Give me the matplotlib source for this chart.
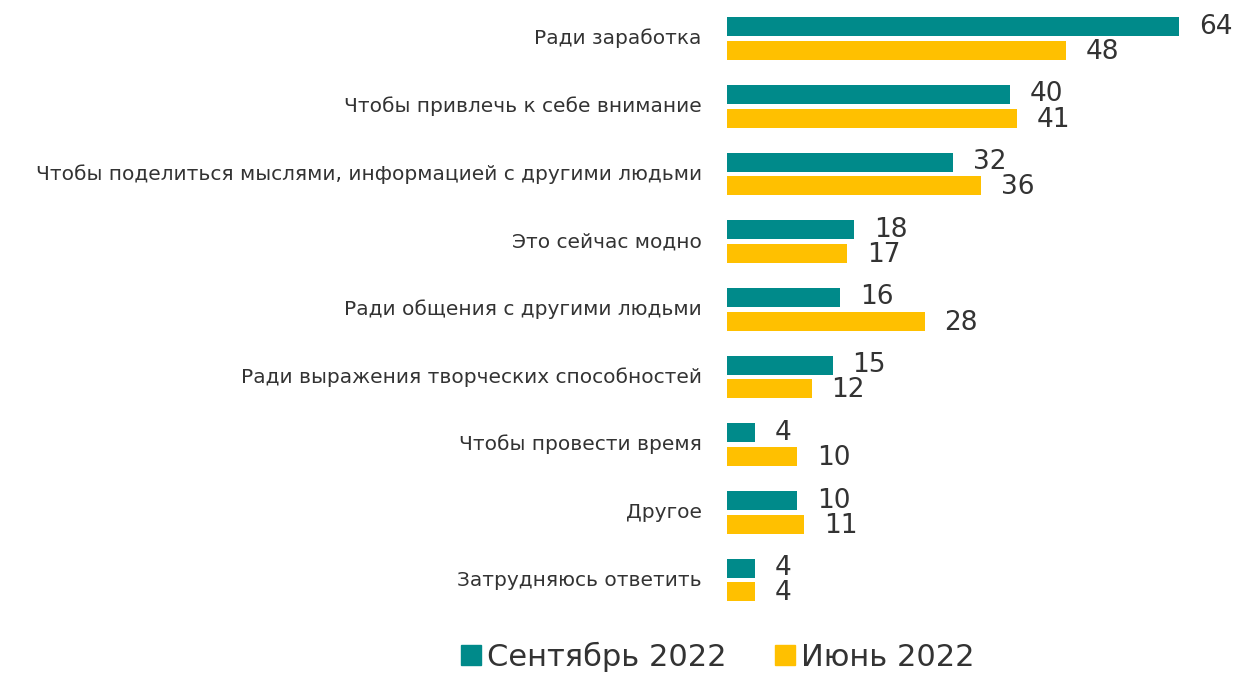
import matplotlib
matplotlib.use('Agg')
import matplotlib.pyplot as plt
import numpy as np
from matplotlib.patches import Patch

# Данные
categories = [
    'Ради заработка',
    'Чтобы привлечь к себе внимание',
    'Чтобы поделиться мыслями, информацией с другими людьми',
    'Это сейчас модно',
    'Ради общения с другими людьми',
    'Ради выражения творческих способностей',
    'Чтобы провести время',
    'Другое',
    'Затрудняюсь ответить',
]
sep_2022 = [64, 40, 32, 18, 16, 15, 4, 10, 4]
jun_2022 = [48, 41, 36, 17, 28, 12, 10, 11, 4]
series_names = ['Сентябрь 2022', 'Июнь 2022']

teal = '#008A8A'
yellow = '#FFC000'

plt.rcParams['font.family'] = ['DejaVu Sans']

fig = plt.figure(figsize=(12.38, 6.73), dpi=100)
ax = fig.add_axes([0.587, 0.0788, 0.413, 0.921])

y = np.arange(len(categories))
h = 0.28
off = 0.175
ax.barh(y - off, sep_2022, height=h, color=teal)
ax.barh(y + off, jun_2022, height=h, color=yellow)

# Подписи значений
for i in range(len(categories)):
    ax.text(sep_2022[i] + 2.8, y[i] - off, str(sep_2022[i]), va='center', ha='left',
            fontsize=19, color='#333333')
    ax.text(jun_2022[i] + 2.8, y[i] + off + 0.02, str(jun_2022[i]), va='center', ha='left',
            fontsize=19, color='#333333')

ax.set_xlim(0, 72.3)
ax.set_ylim(8.59, -0.569)
ax.set_yticks(y - 0.03)
ax.set_yticklabels(categories, fontsize=14.5, color='#333333')
ax.tick_params(axis='y', length=0, pad=18)
ax.set_xticks([])
for s in ax.spines.values():
    s.set_visible(False)

handles = [Patch(color=teal), Patch(color=yellow)]
fig.legend(handles, series_names, loc='center', bbox_to_anchor=(0.58, 0.024),
           ncol=2, frameon=False, fontsize=22, handlelength=0.65, handleheight=0.65,
           handletextpad=0.2, columnspacing=1.6, labelcolor='#333333')

fig.savefig('out.png', dpi=100)
